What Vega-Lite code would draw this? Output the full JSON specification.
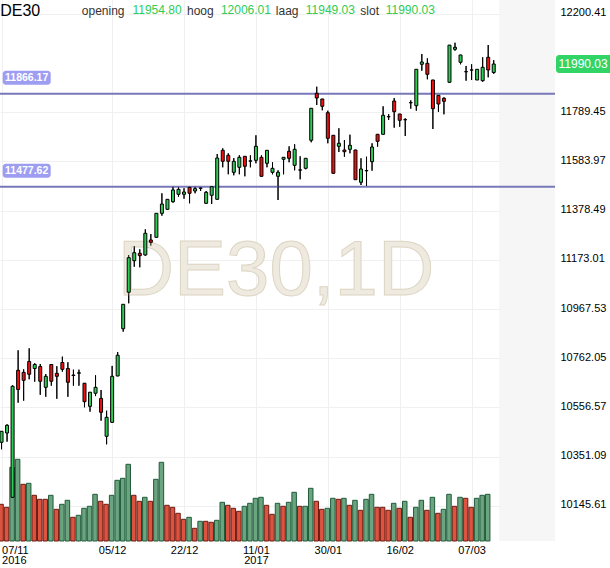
{
  "$schema": "https://vega.github.io/schema/vega-lite/v6.json",
  "width": 555,
  "height": 541,
  "autosize": {"type": "none"},
  "padding": {"left": 0, "top": 0, "right": 55, "bottom": 27},
  "background": "white",
  "config": {
    "view": {"stroke": null},
    "font": "Liberation Sans",
    "axis": {"titleColor": "transparent", "titleFontSize": 1},
    "scale": {"continuousPadding": 0}
  },
  "datasets": {
    "ohlc": [
      {"i":1,"open":10411.3,"high":10458.4,"low":10382.0,"close":10457.2,"volume":36700,"vdir":"down"},
      {"i":2,"open":10450.1,"high":10486.4,"low":10413.8,"close":10482.2,"volume":33700,"vdir":"down"},
      {"i":3,"open":10181.7,"high":10649.2,"low":10178.8,"close":10645.0,"volume":73700,"vdir":"up"},
      {"i":4,"open":10711.8,"high":10795.2,"low":10576.5,"close":10631.6,"volume":81700,"vdir":"up"},
      {"i":5,"open":10703.4,"high":10715.9,"low":10584.9,"close":10670.0,"volume":56700,"vdir":"down"},
      {"i":6,"open":10748.5,"high":10803.6,"low":10674.2,"close":10695.1,"volume":57700,"vdir":"up"},
      {"i":7,"open":10719.3,"high":10741.2,"low":10664.2,"close":10736.0,"volume":45700,"vdir":"down"},
      {"i":8,"open":10727.6,"high":10738.1,"low":10609.5,"close":10666.0,"volume":41700,"vdir":"down"},
      {"i":9,"open":10640.8,"high":10696.3,"low":10601.2,"close":10686.7,"volume":41700,"vdir":"down"},
      {"i":10,"open":10736.0,"high":10737.0,"low":10647.5,"close":10666.0,"volume":45700,"vdir":"up"},
      {"i":11,"open":10699.2,"high":10728.9,"low":10592.8,"close":10686.7,"volume":31700,"vdir":"down"},
      {"i":12,"open":10744.3,"high":10768.7,"low":10705.9,"close":10715.9,"volume":36700,"vdir":"up"},
      {"i":13,"open":10719.3,"high":10745.4,"low":10601.2,"close":10661.8,"volume":40700,"vdir":"up"},
      {"i":14,"open":10692.0,"high":10714.3,"low":10647.5,"close":10690.0,"volume":23700,"vdir":"down"},
      {"i":15,"open":10699.5,"high":10714.3,"low":10647.5,"close":10701.5,"volume":25700,"vdir":"up"},
      {"i":16,"open":10657.7,"high":10658.9,"low":10557.3,"close":10580.7,"volume":32700,"vdir":"up"},
      {"i":17,"open":10561.5,"high":10621.4,"low":10539.0,"close":10620.2,"volume":34700,"vdir":"up"},
      {"i":18,"open":10616.0,"high":10690.9,"low":10604.1,"close":10640.8,"volume":46700,"vdir":"up"},
      {"i":19,"open":10594.5,"high":10629.5,"low":10501.4,"close":10536.5,"volume":39700,"vdir":"down"},
      {"i":20,"open":10436.3,"high":10543.1,"low":10402.9,"close":10515.6,"volume":36700,"vdir":"down"},
      {"i":21,"open":10494.7,"high":10730.1,"low":10493.0,"close":10686.7,"volume":45700,"vdir":"up"},
      {"i":22,"open":10688.0,"high":10788.1,"low":10687.0,"close":10774.6,"volume":60700,"vdir":"up"},
      {"i":23,"open":10885.3,"high":10988.4,"low":10872.9,"close":10987.2,"volume":62700,"vdir":"up"},
      {"i":24,"open":11037.6,"high":11193.0,"low":10991.4,"close":11181.7,"volume":76700,"vdir":"up"},
      {"i":25,"open":11169.2,"high":11230.5,"low":11144.1,"close":11202.6,"volume":45700,"vdir":"down"},
      {"i":26,"open":11200.1,"high":11216.8,"low":11141.6,"close":11190.1,"volume":39700,"vdir":"down"},
      {"i":27,"open":11193.0,"high":11300.3,"low":11190.1,"close":11283.6,"volume":43700,"vdir":"up"},
      {"i":28,"open":11255.6,"high":11280.6,"low":11231.8,"close":11246.0,"volume":39700,"vdir":"down"},
      {"i":29,"open":11266.8,"high":11368.2,"low":11266.0,"close":11367.0,"volume":61700,"vdir":"up"},
      {"i":30,"open":11367.0,"high":11450.5,"low":11357.0,"close":11405.8,"volume":78700,"vdir":"up"},
      {"i":31,"open":11383.7,"high":11426.0,"low":11380.8,"close":11425.4,"volume":35700,"vdir":"down"},
      {"i":32,"open":11415.4,"high":11478.0,"low":11411.3,"close":11464.3,"volume":33700,"vdir":"down"},
      {"i":33,"open":11446.3,"high":11475.5,"low":11436.3,"close":11467.2,"volume":27700,"vdir":"down"},
      {"i":34,"open":11446.3,"high":11471.4,"low":11428.0,"close":11455.9,"volume":21700,"vdir":"down"},
      {"i":35,"open":11475.5,"high":11476.0,"low":11408.8,"close":11450.5,"volume":23700,"vdir":"up"},
      {"i":36,"open":11460.1,"high":11478.0,"low":11450.5,"close":11469.7,"volume":12700,"vdir":"down"},
      {"i":37,"open":11472.6,"high":11473.5,"low":11460.1,"close":11471.4,"volume":19700,"vdir":"up"},
      {"i":38,"open":11408.8,"high":11460.1,"low":11405.8,"close":11454.7,"volume":19700,"vdir":"down"},
      {"i":39,"open":11442.1,"high":11478.5,"low":11405.8,"close":11478.0,"volume":18700,"vdir":"down"},
      {"i":40,"open":11425.4,"high":11614.5,"low":11424.5,"close":11597.8,"volume":20700,"vdir":"up"},
      {"i":41,"open":11629.9,"high":11638.3,"low":11559.0,"close":11584.0,"volume":38700,"vdir":"up"},
      {"i":42,"open":11609.1,"high":11617.4,"low":11529.8,"close":11584.0,"volume":35700,"vdir":"down"},
      {"i":43,"open":11538.1,"high":11597.8,"low":11525.6,"close":11584.0,"volume":32700,"vdir":"down"},
      {"i":44,"open":11559.0,"high":11609.1,"low":11529.8,"close":11600.7,"volume":29700,"vdir":"down"},
      {"i":45,"open":11604.9,"high":11605.5,"low":11521.4,"close":11563.2,"volume":34700,"vdir":"up"},
      {"i":46,"open":11586.0,"high":11609.1,"low":11559.0,"close":11584.6,"volume":37700,"vdir":"up"},
      {"i":47,"open":11588.2,"high":11692.6,"low":11575.7,"close":11646.6,"volume":42700,"vdir":"up"},
      {"i":48,"open":11600.7,"high":11609.1,"low":11520.5,"close":11521.4,"volume":43700,"vdir":"up"},
      {"i":49,"open":11575.7,"high":11630.5,"low":11559.0,"close":11629.9,"volume":35700,"vdir":"down"},
      {"i":50,"open":11538.1,"high":11579.9,"low":11529.8,"close":11554.8,"volume":26700,"vdir":"down"},
      {"i":51,"open":11521.4,"high":11546.5,"low":11422.5,"close":11538.1,"volume":37700,"vdir":"up"},
      {"i":52,"open":11592.4,"high":11601.3,"low":11529.8,"close":11600.7,"volume":34700,"vdir":"down"},
      {"i":53,"open":11625.8,"high":11646.6,"low":11579.9,"close":11596.6,"volume":38700,"vdir":"up"},
      {"i":54,"open":11567.3,"high":11655.0,"low":11546.5,"close":11634.1,"volume":48700,"vdir":"up"},
      {"i":55,"open":11548.3,"high":11604.9,"low":11508.9,"close":11547.2,"volume":34700,"vdir":"down"},
      {"i":56,"open":11554.8,"high":11597.2,"low":11550.7,"close":11596.6,"volume":34700,"vdir":"up"},
      {"i":57,"open":11671.7,"high":11805.8,"low":11663.3,"close":11805.2,"volume":52700,"vdir":"up"},
      {"i":58,"open":11867.8,"high":11895.4,"low":11819.0,"close":11848.2,"volume":39700,"vdir":"down"},
      {"i":59,"open":11844.1,"high":11844.6,"low":11796.9,"close":11813.6,"volume":31700,"vdir":"down"},
      {"i":60,"open":11786.9,"high":11795.2,"low":11659.2,"close":11680.0,"volume":32700,"vdir":"up"},
      {"i":61,"open":11692.6,"high":11693.2,"low":11532.0,"close":11534.0,"volume":42700,"vdir":"up"},
      {"i":62,"open":11646.6,"high":11721.8,"low":11622.9,"close":11659.2,"volume":41700,"vdir":"down"},
      {"i":63,"open":11631.2,"high":11672.9,"low":11603.2,"close":11624.1,"volume":42700,"vdir":"up"},
      {"i":64,"open":11634.1,"high":11695.1,"low":11617.4,"close":11650.8,"volume":35700,"vdir":"down"},
      {"i":65,"open":11631.2,"high":11631.8,"low":11506.0,"close":11507.2,"volume":40700,"vdir":"up"},
      {"i":66,"open":11496.4,"high":11596.6,"low":11485.1,"close":11551.9,"volume":30700,"vdir":"down"},
      {"i":67,"open":11545.5,"high":11603.2,"low":11480.9,"close":11544.3,"volume":41700,"vdir":"up"},
      {"i":68,"open":11582.4,"high":11659.2,"low":11544.8,"close":11643.7,"volume":46700,"vdir":"up"},
      {"i":69,"open":11696.7,"high":11697.3,"low":11645.0,"close":11667.5,"volume":33700,"vdir":"down"},
      {"i":70,"open":11696.7,"high":11813.6,"low":11696.0,"close":11776.0,"volume":33700,"vdir":"down"},
      {"i":71,"open":11770.6,"high":11781.5,"low":11756.4,"close":11769.8,"volume":30700,"vdir":"down"},
      {"i":72,"open":11835.7,"high":11848.2,"low":11724.3,"close":11791.1,"volume":37700,"vdir":"up"},
      {"i":73,"open":11781.5,"high":11782.0,"low":11728.4,"close":11755.2,"volume":32700,"vdir":"down"},
      {"i":74,"open":11758.1,"high":11763.5,"low":11689.6,"close":11757.3,"volume":39700,"vdir":"up"},
      {"i":75,"open":11829.0,"high":11838.6,"low":11803.6,"close":11828.2,"volume":23700,"vdir":"down"},
      {"i":76,"open":11816.1,"high":11968.6,"low":11795.2,"close":11968.0,"volume":33700,"vdir":"up"},
      {"i":77,"open":11988.9,"high":12031.9,"low":11962.2,"close":11998.5,"volume":40700,"vdir":"up"},
      {"i":78,"open":11993.1,"high":12013.9,"low":11926.3,"close":11947.1,"volume":30700,"vdir":"down"},
      {"i":79,"open":11923.4,"high":11924.0,"low":11718.9,"close":11803.6,"volume":43700,"vdir":"up"},
      {"i":80,"open":11859.5,"high":11860.0,"low":11789.8,"close":11823.2,"volume":27700,"vdir":"down"},
      {"i":81,"open":11847.0,"high":11851.2,"low":11780.2,"close":11834.5,"volume":31700,"vdir":"up"},
      {"i":82,"open":11913.8,"high":12069.4,"low":11913.0,"close":12069.0,"volume":46700,"vdir":"up"},
      {"i":83,"open":12051.5,"high":12079.0,"low":12045.6,"close":12059.8,"volume":34700,"vdir":"down"},
      {"i":84,"open":11997.2,"high":12028.3,"low":11988.9,"close":12027.7,"volume":43700,"vdir":"up"},
      {"i":85,"open":11958.4,"high":11981.8,"low":11920.4,"close":11957.6,"volume":42700,"vdir":"down"},
      {"i":86,"open":11965.5,"high":11988.9,"low":11923.4,"close":11964.7,"volume":33700,"vdir":"down"},
      {"i":87,"open":11923.4,"high":11968.6,"low":11923.0,"close":11968.0,"volume":42700,"vdir":"up"},
      {"i":88,"open":11920.4,"high":12018.1,"low":11916.3,"close":11976.4,"volume":45700,"vdir":"up"},
      {"i":89,"open":12018.1,"high":12069.4,"low":11934.6,"close":11965.1,"volume":46700,"vdir":"up"},
      {"i":90,"open":11954.80,"high":12006.01,"low":11949.03,"close":11990.03}
    ],
    "levels": [{"level": 11866.17}, {"level": 11477.62}]
  },
  "layer": [
    {
      "data": {"name": "ohlc"},
      "mark": {"type": "bar", "size": 4.5, "strokeWidth": 1, "xOffset": -0.5},
      "encoding": {
        "x": {
          "field": "i", "type": "quantitative",
          "scale": {"domain": [0.723, 101.08], "nice": false, "zero": false, "padding": 0},
          "axis": {
            "values": [1, 21, 34, 47, 60, 73, 86],
            "labelExpr": "datum.value == 1 ? ['07/11','2016'] : datum.value == 21 ? '05/12' : datum.value == 34 ? '22/12' : datum.value == 47 ? ['11/01','2017'] : datum.value == 60 ? '30/01' : datum.value == 73 ? '16/02' : '07/03'",
            "labelAlign": {"condition": {"test": "datum.value == 1", "value": "left"}, "value": "center"},
            "labelFlush": false,
            "grid": true, "gridColor": "#f0f0f0", "gridWidth": 1,
            "ticks": false, "domain": false,
            "labelPadding": 3, "labelBaseline": "top",
            "labelFontSize": 11, "labelColor": "#000000", "labelLineHeight": 10.5,
            "labelFont": "Liberation Sans",
            "labelOverlap": false, "labelBound": false, "title": null
          }
        },
        "y": {"field": "volume", "type": "quantitative", "scale": {"domain": [0, 541000], "nice": false, "padding": 0}, "axis": null},
        "y2": {"datum": 0},
        "fill": {"field": "vdir", "type": "nominal", "scale": {"domain": ["up", "down"], "range": ["#6aa57f", "#dc5340"]}, "legend": null},
        "stroke": {"field": "vdir", "type": "nominal", "scale": {"domain": ["up", "down"], "range": ["#1f5a3a", "#6b1b12"]}, "legend": null}
      }
    },
    {
      "layer": [
        {
          "data": {"name": "ohlc"},
          "mark": {"type": "rule", "color": "#000000", "strokeWidth": 1},
          "encoding": {
            "x": {"field": "i", "type": "quantitative"},
            "y": {
              "field": "high", "type": "quantitative",
              "scale": {"domain": [9999.3, 12257.24], "nice": false, "zero": false, "padding": 0},
              "axis": {
                "orient": "right",
                "values": [10145.61, 10351.09, 10556.57, 10762.05, 10967.53, 11173.01, 11378.49, 11583.97, 11789.45, 12200.41],
                "format": ".2f",
                "grid": true, "gridColor": "#f0f0f0", "gridWidth": 1,
                "ticks": false, "domain": false,
                "labelPadding": 5, "labelAlign": "left", "labelBaseline": "middle",
                "labelFontSize": 11, "labelColor": "#000000", "labelFont": "Liberation Sans",
                "labelOffset": -1, "labelOverlap": false, "labelFlush": false, "labelBound": false,
                "title": null
              }
            },
            "y2": {"field": "low"}
          }
        },
        {
          "data": {"values": [{}]},
          "mark": {"type": "rect", "fill": "#f6f6f6"},
          "encoding": {
            "x": {"datum": 91.0, "type": "quantitative"},
            "x2": {"datum": 101.08},
            "y": {"datum": 12257.24, "type": "quantitative"},
            "y2": {"datum": 9999.3}
          }
        },
        {
          "data": {"values": [{}]},
          "mark": {"type": "text", "text": "DE30,1D", "fontSize": 78, "font": "Liberation Sans", "fill": "#efeae0", "stroke": "#ddd5c3", "strokeWidth": 1, "align": "center", "baseline": "alphabetic"},
          "encoding": {
            "x": {"datum": 50.63, "type": "quantitative"},
            "y": {"datum": 11026.0, "type": "quantitative"}
          }
        },
        {
          "data": {"name": "levels"},
          "mark": {"type": "rule", "color": "#7878b8", "strokeWidth": 2},
          "encoding": {
            "y": {"field": "level", "type": "quantitative"}
          }
        },
        {
          "data": {"name": "ohlc"},
          "mark": {"type": "rule", "color": "#000000", "strokeWidth": 1},
          "encoding": {
            "x": {"field": "i", "type": "quantitative"},
            "y": {"field": "high", "type": "quantitative"},
            "y2": {"field": "low"}
          }
        },
        {
          "data": {"name": "ohlc"},
          "mark": {"type": "bar", "size": 3, "stroke": "#000000", "strokeWidth": 1},
          "encoding": {
            "x": {"field": "i", "type": "quantitative"},
            "y": {"field": "open", "type": "quantitative"},
            "y2": {"field": "close"},
            "fill": {"condition": {"test": "datum.close >= datum.open", "value": "#2ecc55"}, "value": "#f01010"}
          }
        },
        {
          "data": {"name": "levels"},
          "mark": {"type": "rect", "fill": "#9d9df2", "cornerRadius": 3, "yOffset": -23, "y2Offset": -9},
          "encoding": {
            "x": {"datum": 1.21, "type": "quantitative"},
            "x2": {"datum": 9.89},
            "y": {"field": "level", "type": "quantitative"},
            "y2": {"field": "level"}
          }
        },
        {
          "data": {"name": "levels"},
          "mark": {"type": "text", "color": "#ffffff", "fontWeight": "bold", "fontSize": 10.5, "font": "Liberation Sans", "align": "center", "baseline": "middle", "dy": -16},
          "encoding": {
            "x": {"datum": 5.55, "type": "quantitative"},
            "y": {"field": "level", "type": "quantitative"},
            "text": {"field": "level", "type": "quantitative", "format": ".2f"}
          }
        },
        {
          "data": {"name": "ohlc"},
          "transform": [{"filter": "datum.i == 90"}],
          "mark": {"type": "rect", "fill": "#33d466", "cornerRadius": 3, "yOffset": -9, "y2Offset": 9},
          "encoding": {
            "x": {"datum": 101.26, "type": "quantitative"},
            "x2": {"datum": 111.6},
            "y": {"field": "close", "type": "quantitative"},
            "y2": {"field": "close"}
          }
        },
        {
          "data": {"name": "ohlc"},
          "transform": [{"filter": "datum.i == 90"}],
          "mark": {"type": "text", "color": "#ffffff", "fontSize": 12, "font": "Liberation Sans", "align": "left", "baseline": "middle"},
          "encoding": {
            "x": {"datum": 101.72, "type": "quantitative"},
            "y": {"field": "close", "type": "quantitative"},
            "text": {"field": "close", "type": "quantitative", "format": ".2f"}
          }
        },
        {
          "data": {"values": [{}]},
          "mark": {"type": "text", "text": "DE30", "fontSize": 16, "font": "Liberation Sans", "color": "#000000", "align": "left", "baseline": "alphabetic"},
          "encoding": {
            "x": {"datum": 0.75, "type": "quantitative"},
            "y": {"datum": 12192.1, "type": "quantitative"}
          }
        },
        {
          "data": {"values": [{}]},
          "mark": {"type": "text", "text": "opening", "fontSize": 12, "font": "Liberation Sans", "color": "#333333", "align": "left", "baseline": "alphabetic"},
          "encoding": {
            "x": {"datum": 15.52, "type": "quantitative"},
            "y": {"datum": 12194.6, "type": "quantitative"}
          }
        },
        {
          "data": {"values": [{}]},
          "mark": {"type": "text", "text": "hoog", "fontSize": 12, "font": "Liberation Sans", "color": "#333333", "align": "left", "baseline": "alphabetic"},
          "encoding": {
            "x": {"datum": 34.54, "type": "quantitative"},
            "y": {"datum": 12194.6, "type": "quantitative"}
          }
        },
        {
          "data": {"values": [{}]},
          "mark": {"type": "text", "text": "laag", "fontSize": 12, "font": "Liberation Sans", "color": "#333333", "align": "left", "baseline": "alphabetic"},
          "encoding": {
            "x": {"datum": 50.6, "type": "quantitative"},
            "y": {"datum": 12194.6, "type": "quantitative"}
          }
        },
        {
          "data": {"values": [{}]},
          "mark": {"type": "text", "text": "slot", "fontSize": 12, "font": "Liberation Sans", "color": "#333333", "align": "left", "baseline": "alphabetic"},
          "encoding": {
            "x": {"datum": 65.88, "type": "quantitative"},
            "y": {"datum": 12194.6, "type": "quantitative"}
          }
        },
        {
          "data": {"name": "ohlc"},
          "transform": [{"filter": "datum.i == 90"}],
          "mark": {"type": "text", "fontSize": 12, "font": "Liberation Sans", "color": "#2ecc55", "align": "left", "baseline": "alphabetic"},
          "encoding": {
            "x": {"datum": 24.68, "type": "quantitative"},
            "y": {"datum": 12200.5, "type": "quantitative"},
            "text": {"field": "open", "type": "quantitative", "format": ".2f"}
          }
        },
        {
          "data": {"name": "ohlc"},
          "transform": [{"filter": "datum.i == 90"}],
          "mark": {"type": "text", "fontSize": 12, "font": "Liberation Sans", "color": "#2ecc55", "align": "left", "baseline": "alphabetic"},
          "encoding": {
            "x": {"datum": 40.67, "type": "quantitative"},
            "y": {"datum": 12200.5, "type": "quantitative"},
            "text": {"field": "high", "type": "quantitative", "format": ".2f"}
          }
        },
        {
          "data": {"name": "ohlc"},
          "transform": [{"filter": "datum.i == 90"}],
          "mark": {"type": "text", "fontSize": 12, "font": "Liberation Sans", "color": "#2ecc55", "align": "left", "baseline": "alphabetic"},
          "encoding": {
            "x": {"datum": 56.02, "type": "quantitative"},
            "y": {"datum": 12200.5, "type": "quantitative"},
            "text": {"field": "low", "type": "quantitative", "format": ".2f"}
          }
        },
        {
          "data": {"name": "ohlc"},
          "transform": [{"filter": "datum.i == 90"}],
          "mark": {"type": "text", "fontSize": 12, "font": "Liberation Sans", "color": "#2ecc55", "align": "left", "baseline": "alphabetic"},
          "encoding": {
            "x": {"datum": 70.47, "type": "quantitative"},
            "y": {"datum": 12200.5, "type": "quantitative"},
            "text": {"field": "close", "type": "quantitative", "format": ".2f"}
          }
        }
      ]
    }
  ],
  "resolve": {"scale": {"y": "independent"}}
}
